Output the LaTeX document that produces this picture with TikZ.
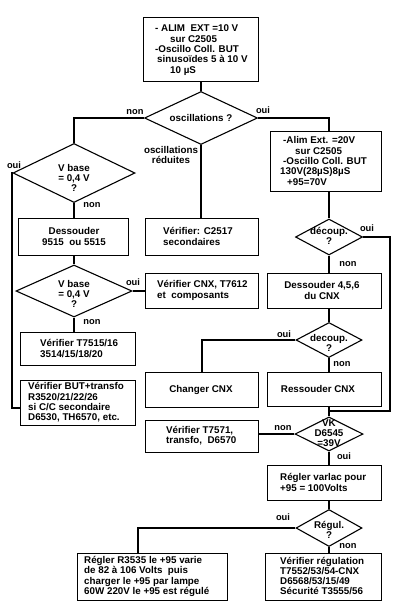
\documentclass[tikz,border=0pt]{standalone}
\usepackage{fontspec}
\setmainfont{Liberation Sans}
\usetikzlibrary{shapes.geometric}
\begin{document}
\begin{tikzpicture}[x=1pt,y=-1pt,
  box/.style={draw, line width=1.1pt, rectangle, inner sep=0pt, anchor=north west},
  dia/.style={draw, line width=1.1pt, diamond, inner sep=0pt},
  txt/.style={font=\fontsize{9.8}{10.3}\selectfont\bfseries, inner sep=0pt, align=left},
  ctxt/.style={font=\fontsize{9.8}{10.3}\selectfont\bfseries, inner sep=0pt, align=center},
  lbl/.style={font=\fontsize{9.3}{10}\selectfont\bfseries, inner sep=0pt},
  conn/.style={line width=1.7pt}
]
\fill[white] (0,0) rectangle (401,608);
\useasboundingbox (0,0) rectangle (401,608);

% ---------- boxes ----------
\node[box, minimum width=115pt, minimum height=64pt] (b0) at (143,17) {};
\node[txt, anchor=west] (t0) at (155,50) {- ALIM\ \ EXT =10 V\\\hspace*{15pt}sur C2505\\-Oscillo Coll. BUT\\\hspace*{2pt}sinusoïdes 5 à 10 V\\\hspace*{15pt}10 µS};

\node[box, minimum width=111pt, minimum height=60pt] (b1) at (270,131) {};
\node[txt, anchor=west] (t1) at (283,161) {-Alim Ext. =20V\\\hspace*{12pt}sur C2505\\-Oscillo Coll. BUT\\\hspace*{-3pt}130V(28µS)8µS\\\hspace*{4pt}+95=70V};

\node[box, minimum width=113pt, minimum height=37pt] (bC) at (145,218) {};
\node[txt, anchor=west] (tC) at (163,236.5) {Vérifier: C2517\\secondaires};

\node[box, minimum width=110pt, minimum height=37pt] (bD9515) at (18,218) {};
\node[ctxt] (tD9515) at (74,236.5) {Dessouder\\9515\ \ ou 5515};

\node[box, minimum width=113pt, minimum height=35pt] (bCNX) at (145,273) {};
\node[txt, anchor=west] (tCNX) at (157,290.5) {Vérifier CNX, T7612\\et\ \ composants};

\node[box, minimum width=114pt, minimum height=35pt] (bD456) at (267,273) {};
\node[ctxt] (tD456) at (322,290.5) {Dessouder 4,5,6\\du CNX};

\node[box, minimum width=115pt, minimum height=33pt] (bT7515) at (20,332) {};
\node[txt, anchor=west] (tT7515) at (40,348.5) {Vérifier T7515/16\\3514/15/18/20};

\node[box, minimum width=113pt, minimum height=35pt] (bCh) at (145,372) {};
\node[ctxt] (tCh) at (201,389.5) {Changer CNX};

\node[box, minimum width=114pt, minimum height=34pt] (bRess) at (267,372) {};
\node[ctxt] (tRess) at (318,389) {Ressouder CNX};

\node[box, minimum width=115pt, minimum height=45pt] (bBUT) at (20,380) {};
\node[txt, anchor=west] (tBUT) at (28,402.5) {Vérifier BUT+transfo\\R3520/21/22/26\\si C/C secondaire\\D6530, TH6570, etc.};

\node[box, minimum width=113pt, minimum height=32pt] (bT7571) at (145,420) {};
\node[txt, anchor=west] (tT7571) at (166,436) {Vérifier T7571,\\transfo,\ \ D6570};

\node[box, minimum width=114pt, minimum height=35pt] (bVar) at (267,465) {};
\node[txt, anchor=west] (tVar) at (280,482.5) {Régler varlac pour\\+95 = 100Volts};

\node[box, minimum width=150pt, minimum height=47pt] (bR) at (77,553) {};
\node[txt, anchor=west] (tR) at (84,576.5) {Régler R3535 le +95 varie\\de 82 à 106 Volts\ \ puis\\charger le +95 par lampe\\60W 220V le +95 est régulé};

\node[box, minimum width=116pt, minimum height=47pt] (bReg) at (265,553) {};
\node[txt, anchor=west] (tReg) at (280,576) {Vérifier régulation\\T7552/53/54-CNX\\D6568/53/15/49\\Sécurité T3555/56};

% ---------- diamonds ----------
\node[dia, minimum width=113pt, minimum height=53pt] (d0) at (201,118) {};
\node[ctxt] (td0) at (201,118) {oscillations ?};

\node[dia, minimum width=122pt, minimum height=59pt] (d1) at (74,173) {};
\node[ctxt] (td1) at (74,178) {V base\\= 0,4 V\\?};

\node[dia, minimum width=116pt, minimum height=52pt] (d2) at (74,291) {};
\node[ctxt] (td2) at (74,294) {V base\\= 0,4 V\\?};

\node[dia, minimum width=67pt, minimum height=36pt] (d3) at (329,237) {};
\node[ctxt] (td3) at (329,236) {découp.\\?};

\node[dia, minimum width=66pt, minimum height=35pt] (d4) at (329,340) {};
\node[ctxt] (td4) at (329,343) {decoup.\\?};

\node[dia, minimum width=68pt, minimum height=34pt] (d5) at (329,434) {};
\node[ctxt] (td5) at (329,433) {VK\\D6545\\=39V};

\node[dia, minimum width=66pt, minimum height=37pt] (d6) at (329,528) {};
\node[ctxt] (td6) at (329,530) {Régul.\\?};

% ---------- labels ----------
\node[lbl] (l0n) at (135,112) {non};
\node[lbl] (l0o) at (263,110) {oui};
\node[ctxt] (l0r) at (171,155) {oscillations\\réduites};
\node[lbl] (l1o) at (14,165) {oui};
\node[lbl] (l1n) at (92,205) {non};
\node[lbl] (l2o) at (133,282) {oui};
\node[lbl] (l2n) at (92,322) {non};
\node[lbl] (l3o) at (367,228) {oui};
\node[lbl] (l3n) at (348,264) {non};
\node[lbl] (l4o) at (284,334) {oui};
\node[lbl] (l4n) at (342,364) {non};
\node[lbl] (l5n) at (283,428) {non};
\node[lbl] (l5o) at (344,456) {oui};
\node[lbl] (l6o) at (283,517) {oui};
\node[lbl] (l6n) at (348,546) {non};

% ---------- connectors ----------
\coordinate (j1) at (12,408);
\coordinate (j2) at (390,411);
\coordinate (j3) at (138,553);

\draw[conn] (b0.south -| d0.north) -- (d0.north);
\draw[conn] (d0.west) -| (d1.north);
\draw[conn] (d0.east) -| (b1.north -| d3.north);
\draw[conn] (d0.south) -- (d0.south |- bC.north);
\draw[conn] (d1.south) -- (d1.south |- bD9515.north);
\draw[conn] (d1.west) -| (j1) -- (j1 -| bBUT.west);
\draw[conn] (bD9515.south -| d2.north) -- (d2.north);
\draw[conn] (d2.east) -- (d2.east -| bCNX.west);
\draw[conn] (d2.south) -- (d2.south |- bT7515.north);

\draw[conn] (b1.south -| d3.north) -- (d3.north);
\draw[conn] (d3.south) -- (d3.south |- bD456.north);
\draw[conn] (d3.east) -| (j2) -- (j2 -| d5.north);
\draw[conn] (bD456.south -| d4.north) -- (d4.north);
\draw[conn] (d4.west) -| (bCh.north);
\draw[conn] (d4.south) -- (d4.south |- bRess.north);
\draw[conn] (bRess.south -| d5.north) -- (d5.north);
\draw[conn] (d5.west) -- (d5.west -| bT7571.east);
\draw[conn] (d5.south) -- (d5.south |- bVar.north);
\draw[conn] (bVar.south -| d6.north) -- (d6.north);
\draw[conn] (d6.west) -| (j3);
\draw[conn] (d6.south) -- (d6.south |- bReg.north);
\end{tikzpicture}
\end{document}
